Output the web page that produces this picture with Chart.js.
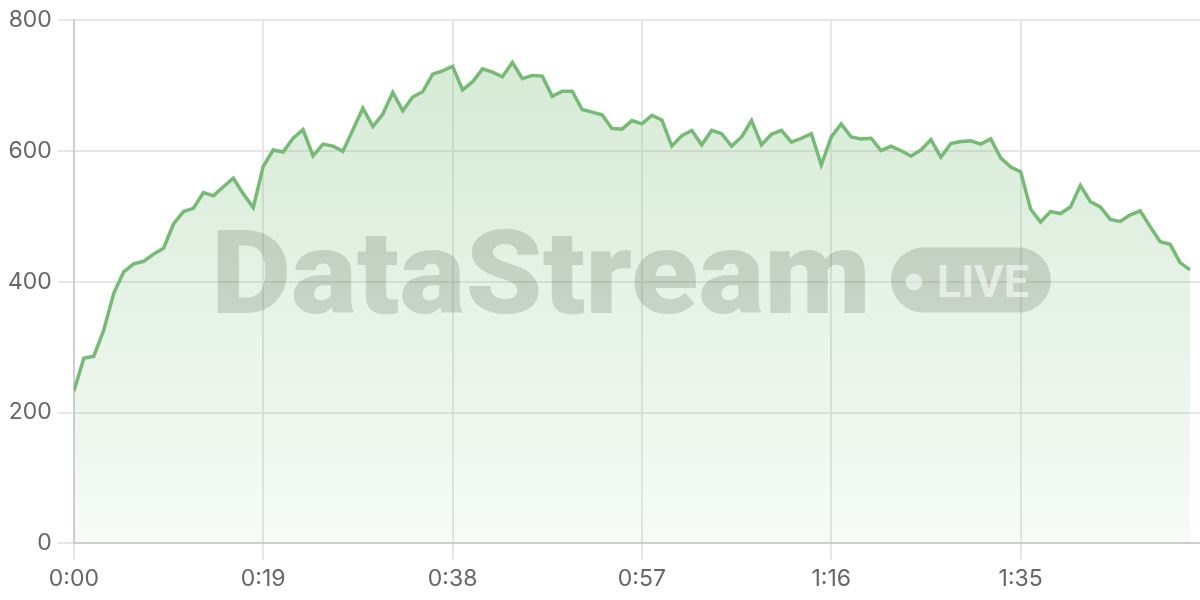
<!DOCTYPE html>
<html>
<head>
<meta charset="utf-8">
<script src="https://cdn.jsdelivr.net/npm/chart.js@4"></script>
<style>
  html, body { margin: 0; padding: 0; background: #fff; }
  #wrap { width: 1200px; height: 600px; }
</style>
</head>
<body>
<div id="wrap"><canvas id="stream-chart"></canvas></div>
<script>
// seconds since start, one sample per second
const seconds = Array.from({ length: 113 }, (_, i) => i);

const viewers = [
  233, 283, 286, 326, 382, 415, 427, 431, 442, 451,
  488, 507, 512, 536, 531, 545, 558, 534, 513, 576,
  601, 598, 619, 632, 592, 610, 607, 599, 632, 665,
  637, 656, 689, 661, 682, 690, 717, 722, 729, 693,
  705, 725, 720, 713, 735, 710, 715, 714, 683, 691,
  691, 663, 659, 655, 634, 633, 646, 641, 654, 647,
  607, 623, 631, 609, 631, 626, 607, 621, 646, 609,
  625, 631, 613, 619, 626, 578, 621, 641, 621, 618,
  619, 600, 607, 600, 592, 601, 617, 590, 611, 614,
  615, 610, 618, 589, 575, 568, 511, 491, 507, 504,
  514, 547, 522, 514, 495, 492, 502, 508, 484, 461,
  457, 429, 418,
];

const yTicks = [0, 200, 400, 600, 800];
const xTickStep = 19;
const xMax = 113;

const lineColor = "rgb(118, 186, 118)";

function formatClock(value) {
  const m = Math.floor(value / 60);
  const s = value % 60;
  return `${m}:${String(s).padStart(2, "0")}`;
}

function fillGradient(context) {
  const { chart } = context;
  const area = chart.chartArea;
  if (!area) return "rgba(118, 186, 118, 0.2)";
  const g = chart.ctx.createLinearGradient(0, area.top, 0, area.bottom);
  g.addColorStop(0, "rgba(118, 186, 118, 0.32)");
  g.addColorStop(1, "rgba(118, 186, 118, 0.06)");
  return g;
}

// big translucent "DataStream  LIVE" mark in the middle of the plot
const watermark = {
  id: "watermark",
  afterDatasetsDraw(chart) {
    const { ctx, chartArea } = chart;
    const cx = (chartArea.left + chartArea.right) / 2 - 6;
    const baseline = (chartArea.top + chartArea.bottom) / 2 + 31;
    const targetW = 660;
    const gap = 20;
    const pillW = 160;
    const pillH = 65;
    const left = cx - (targetW + gap + pillW) / 2;

    ctx.save();
    ctx.fillStyle = "rgba(60, 72, 60, 0.19)";
    ctx.textBaseline = "alphabetic";
    ctx.textAlign = "left";
    ctx.font = "900 116px Roboto, 'Liberation Sans', sans-serif";
    const rawW = ctx.measureText("DataStream").width;
    ctx.save();
    ctx.translate(left, baseline);
    ctx.scale(targetW / rawW, 1);
    ctx.fillText("DataStream", 0, 0);
    ctx.restore();

    const px = left + targetW + gap;
    const py = baseline - pillH;
    ctx.beginPath();
    ctx.roundRect(px, py, pillW, pillH, pillH / 2);
    ctx.fill();

    ctx.fillStyle = "rgba(255, 255, 255, 0.55)";
    ctx.beginPath();
    ctx.arc(px + 23, py + pillH / 2 + 2, 8.5, 0, Math.PI * 2);
    ctx.fill();
    ctx.font = "bold 44px Roboto, 'Liberation Sans', sans-serif";
    const liveW = ctx.measureText("LIVE").width;
    ctx.translate(px + 46, py + 49);
    ctx.scale(92 / liveW, 1);
    ctx.fillText("LIVE", 0, 0);
    ctx.restore();
  },
};

Chart.defaults.font.family = "Inter, 'Noto Sans', sans-serif";
Chart.defaults.font.size = 23;
Chart.defaults.color = "#666";

const ctx = document.getElementById("stream-chart").getContext("2d");

new Chart(ctx, {
  type: "line",
  data: {
    labels: seconds,
    datasets: [
      {
        label: "Viewers",
        data: viewers,
        borderColor: lineColor,
        borderWidth: 3.5,
        backgroundColor: fillGradient,
        fill: "start",
        tension: 0,
        pointRadius: 0,
      },
    ],
  },
  options: {
    responsive: true,
    maintainAspectRatio: false,
    animation: false,
    layout: {
      padding: { top: 10, left: 2, right: 0, bottom: 1 },
    },
    plugins: {
      legend: { display: false },
      tooltip: { enabled: false },
    },
    scales: {
      x: {
        type: "linear",
        min: 0,
        max: xMax,
        afterBuildTicks: (axis) => {
          axis.ticks = axis.ticks.filter((t) => t.value % xTickStep === 0);
        },
        ticks: {
          stepSize: xTickStep,
          padding: 6,
          maxRotation: 0,
          autoSkip: false,
          callback: (value) => formatClock(value),
        },
        grid: {
          color: "#e6e6e6",
          lineWidth: 2,
          tickLength: 16,
        },
        border: { color: "#cfcfcf", width: 2 },
      },
      y: {
        min: 0,
        max: 800,
        afterBuildTicks: (axis) => {
          axis.ticks = yTicks.map((v) => ({ value: v }));
        },
        ticks: {
          padding: 6,
        },
        grid: {
          color: "#e6e6e6",
          lineWidth: 2,
          tickLength: 16,
        },
        border: { color: "#cfcfcf", width: 2 },
      },
    },
  },
  plugins: [watermark],
});
</script>
</body>
</html>
